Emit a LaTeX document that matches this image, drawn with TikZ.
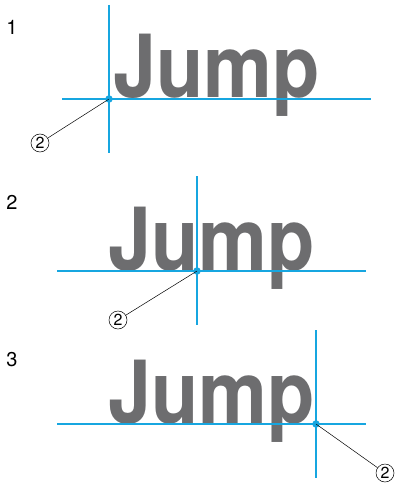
\documentclass[tikz,border=0pt]{standalone}
\usepackage{fontspec}
\setmainfont{TeX Gyre Heros}
\usepackage{tikz}
\usetikzlibrary{positioning,calc}

\definecolor{guideblue}{HTML}{17A6E0}
\definecolor{wordgray}{HTML}{6D6D6F}

\begin{document}
\begin{tikzpicture}[x=1pt,y=-1pt]
\tikzset{
  steplabel/.style={font=\fontsize{20}{20}\selectfont, inner sep=0pt},
  word/.style={anchor=base west, inner sep=0pt, text=wordgray,
    font=\fontsize{87}{87}\selectfont\bfseries},
  guide/.style={draw=guideblue, line width=2.3pt},
  dotmark/.style={circle, fill=guideblue, inner sep=0pt, minimum size=7.5pt},
  callout/.style={circle, draw=black, line width=0.5pt, inner sep=0pt,
    minimum size=18pt, font=\fontsize{16}{16}\selectfont},
  leader/.style={draw=black, line width=0.5pt}
}
\useasboundingbox (0,0) rectangle (398,489);

% panel 1
\node[steplabel] (num1) at (12,27) {1};
\node[word] (jump1) at (113,98) {\scalebox{0.89}[1]{Jump}};
\draw[guide] (62,99) -- (371,99);
\draw[guide] (109,5) -- (109,153);
\node[dotmark] (dot1) at (109,99) {};
\node[callout] (call1) at (40,143) {2};
\draw[leader] (dot1.center) -- (call1);

% panel 2
\node[steplabel] (num2) at (12,202) {2};
\node[word] (jump2) at (108,270) {\scalebox{0.89}[1]{Jump}};
\draw[guide] (57,271) -- (366,271);
\draw[guide] (197,176) -- (197,325);
\node[dotmark] (dot2) at (197,271) {};
\node[callout] (call2) at (118,320) {2};
\draw[leader] (dot2.center) -- (call2);

% panel 3
\node[steplabel] (num3) at (12,360) {3};
\node[word] (jump3) at (108,423) {\scalebox{0.89}[1]{Jump}};
\draw[guide] (57,424) -- (366,424);
\draw[guide] (316,330) -- (316,478);
\node[dotmark] (dot3) at (316,424) {};
\node[callout] (call3) at (385,473) {2};
\draw[leader] (dot3.center) -- (call3);
\end{tikzpicture}
\end{document}
